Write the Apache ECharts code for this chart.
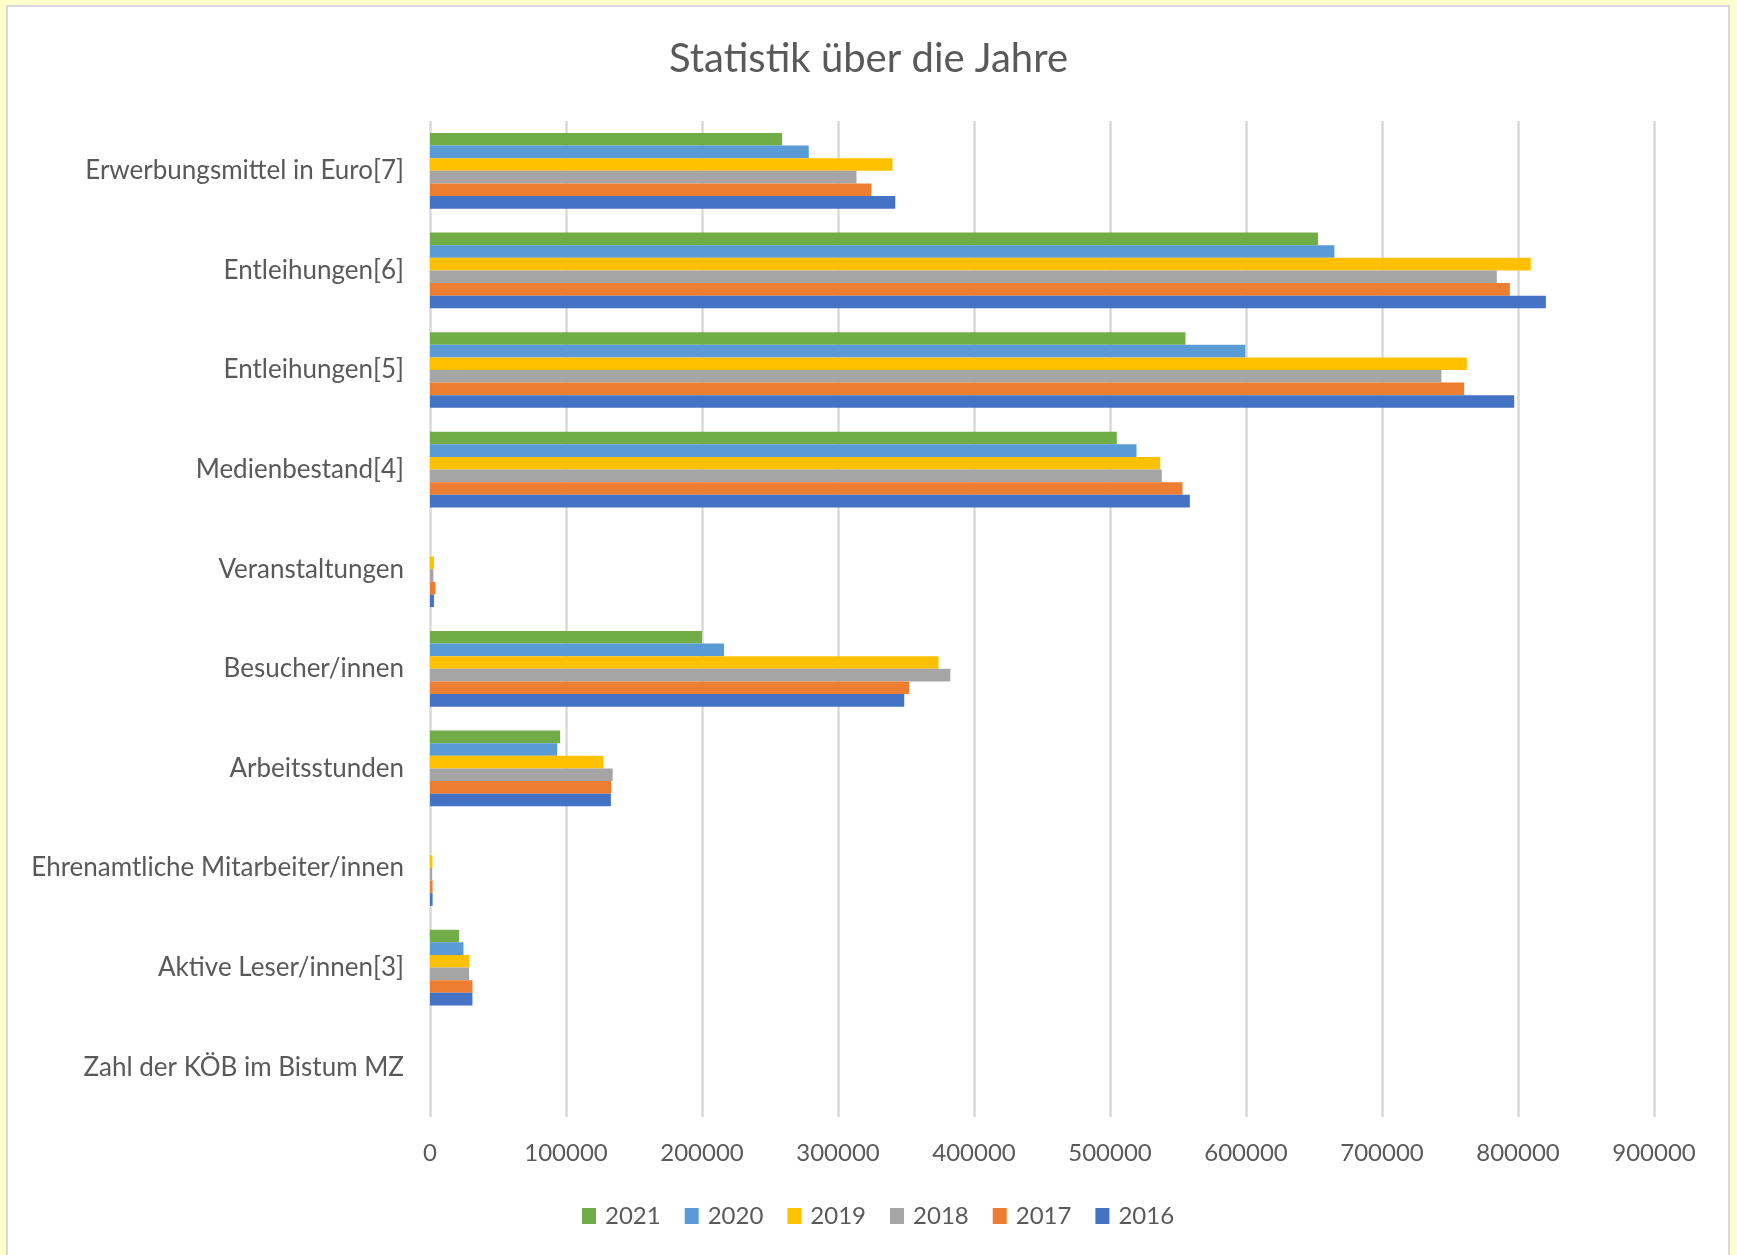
<!DOCTYPE html>
<html>
<head>
<meta charset="utf-8">
<script src="https://cdn.jsdelivr.net/npm/echarts@6/dist/echarts.min.js"></script>
<style>
html,body{margin:0;padding:0;background:#FFFFCC;}
#chart{width:1737px;height:1255px;}
</style>
</head>
<body>
<div id="chart"></div>
<script>
// Categories from bottom to top of the chart
const categories = [
  'Zahl der KÖB im Bistum MZ',
  'Aktive Leser/innen[3]',
  'Ehrenamtliche Mitarbeiter/innen',
  'Arbeitsstunden',
  'Besucher/innen',
  'Veranstaltungen',
  'Medienbestand[4]',
  'Entleihungen[5]',
  'Entleihungen[6]',
  'Erwerbungsmittel in Euro[7]'
];
const years = ['2021', '2020', '2019', '2018', '2017', '2016'];
const v2021 = [null, 21300, null, 95700, 200000, null, 505000, 555500, 652900, 258900];
const v2020 = [null, 24600, null, 93500, 216200, null, 519500, 599500, 665000, 278500];
const v2019 = [null, 29000, 1800, 127400, 373900, 2900, 536900, 762400, 809400, 340100];
const v2018 = [null, 28700, 1600, 134300, 382600, 2500, 538100, 743700, 784400, 313600];
const v2017 = [null, 31200, 1900, 133200, 352200, 4000, 553300, 760400, 794000, 324600];
const v2016 = [null, 31200, 1900, 133000, 348700, 2900, 558700, 797200, 820500, 342100];
const xTicks = [0, 100000, 200000, 300000, 400000, 500000, 600000, 700000, 800000, 900000];

const valuesByYear = {'2021': v2021, '2020': v2020, '2019': v2019, '2018': v2018, '2017': v2017, '2016': v2016};
const colors = {'2021': '#70AD47', '2020': '#5B9BD5', '2019': '#FFC000', '2018': '#A5A5A5', '2017': '#ED7D31', '2016': '#4472C4'};

const FONT = 'Lato';
const TXT = '#595959';

const chart = echarts.init(document.getElementById('chart'), null, {renderer: 'canvas'});
const option = {
  backgroundColor: '#FFFFCC',
  animation: false,
  textStyle: {fontFamily: FONT, color: TXT},
  graphic: [{
    type: 'rect', z: -10, silent: true,
    shape: {x: 7, y: 6, width: 1722, height: 1262},
    style: {fill: '#ffffff', stroke: '#D9D9D9', lineWidth: 2}
  }],
  title: {
    text: 'Statistik über die Jahre',
    left: 'center',
    top: 34,
    textStyle: {fontFamily: FONT, fontSize: 40, fontWeight: 'normal', color: TXT}
  },
  legend: {
    data: years,
    left: 577,
    top: 1199,
    icon: 'rect',
    itemWidth: 14,
    itemHeight: 16,
    itemGap: 24,
    textStyle: {fontFamily: FONT, fontSize: 24, color: TXT, padding: [0, 0, 0, 4]}
  },
  grid: {left: 430, right: 83, top: 121, bottom: 138, containLabel: false},
  xAxis: {
    type: 'value',
    min: xTicks[0],
    max: xTicks[xTicks.length - 1],
    interval: xTicks[1] - xTicks[0],
    axisLine: {show: false},
    axisTick: {show: false},
    splitLine: {show: true, lineStyle: {color: '#D9D9D9', width: 2.5}},
    axisLabel: {fontFamily: FONT, fontSize: 24, color: TXT, margin: 24, formatter: v => String(v)}
  },
  yAxis: {
    type: 'category',
    data: categories,
    axisLine: {show: false},
    axisTick: {show: false},
    splitLine: {show: false},
    axisLabel: {fontFamily: FONT, fontSize: 26, color: TXT, margin: 26}
  },
  series: years.map(y => ({
    name: y,
    type: 'bar',
    data: valuesByYear[y],
    itemStyle: {color: colors[y]},
    barGap: '0%',
    barCategoryGap: '24%'
  }))
};
chart.setOption(option);
</script>
</body>
</html>
